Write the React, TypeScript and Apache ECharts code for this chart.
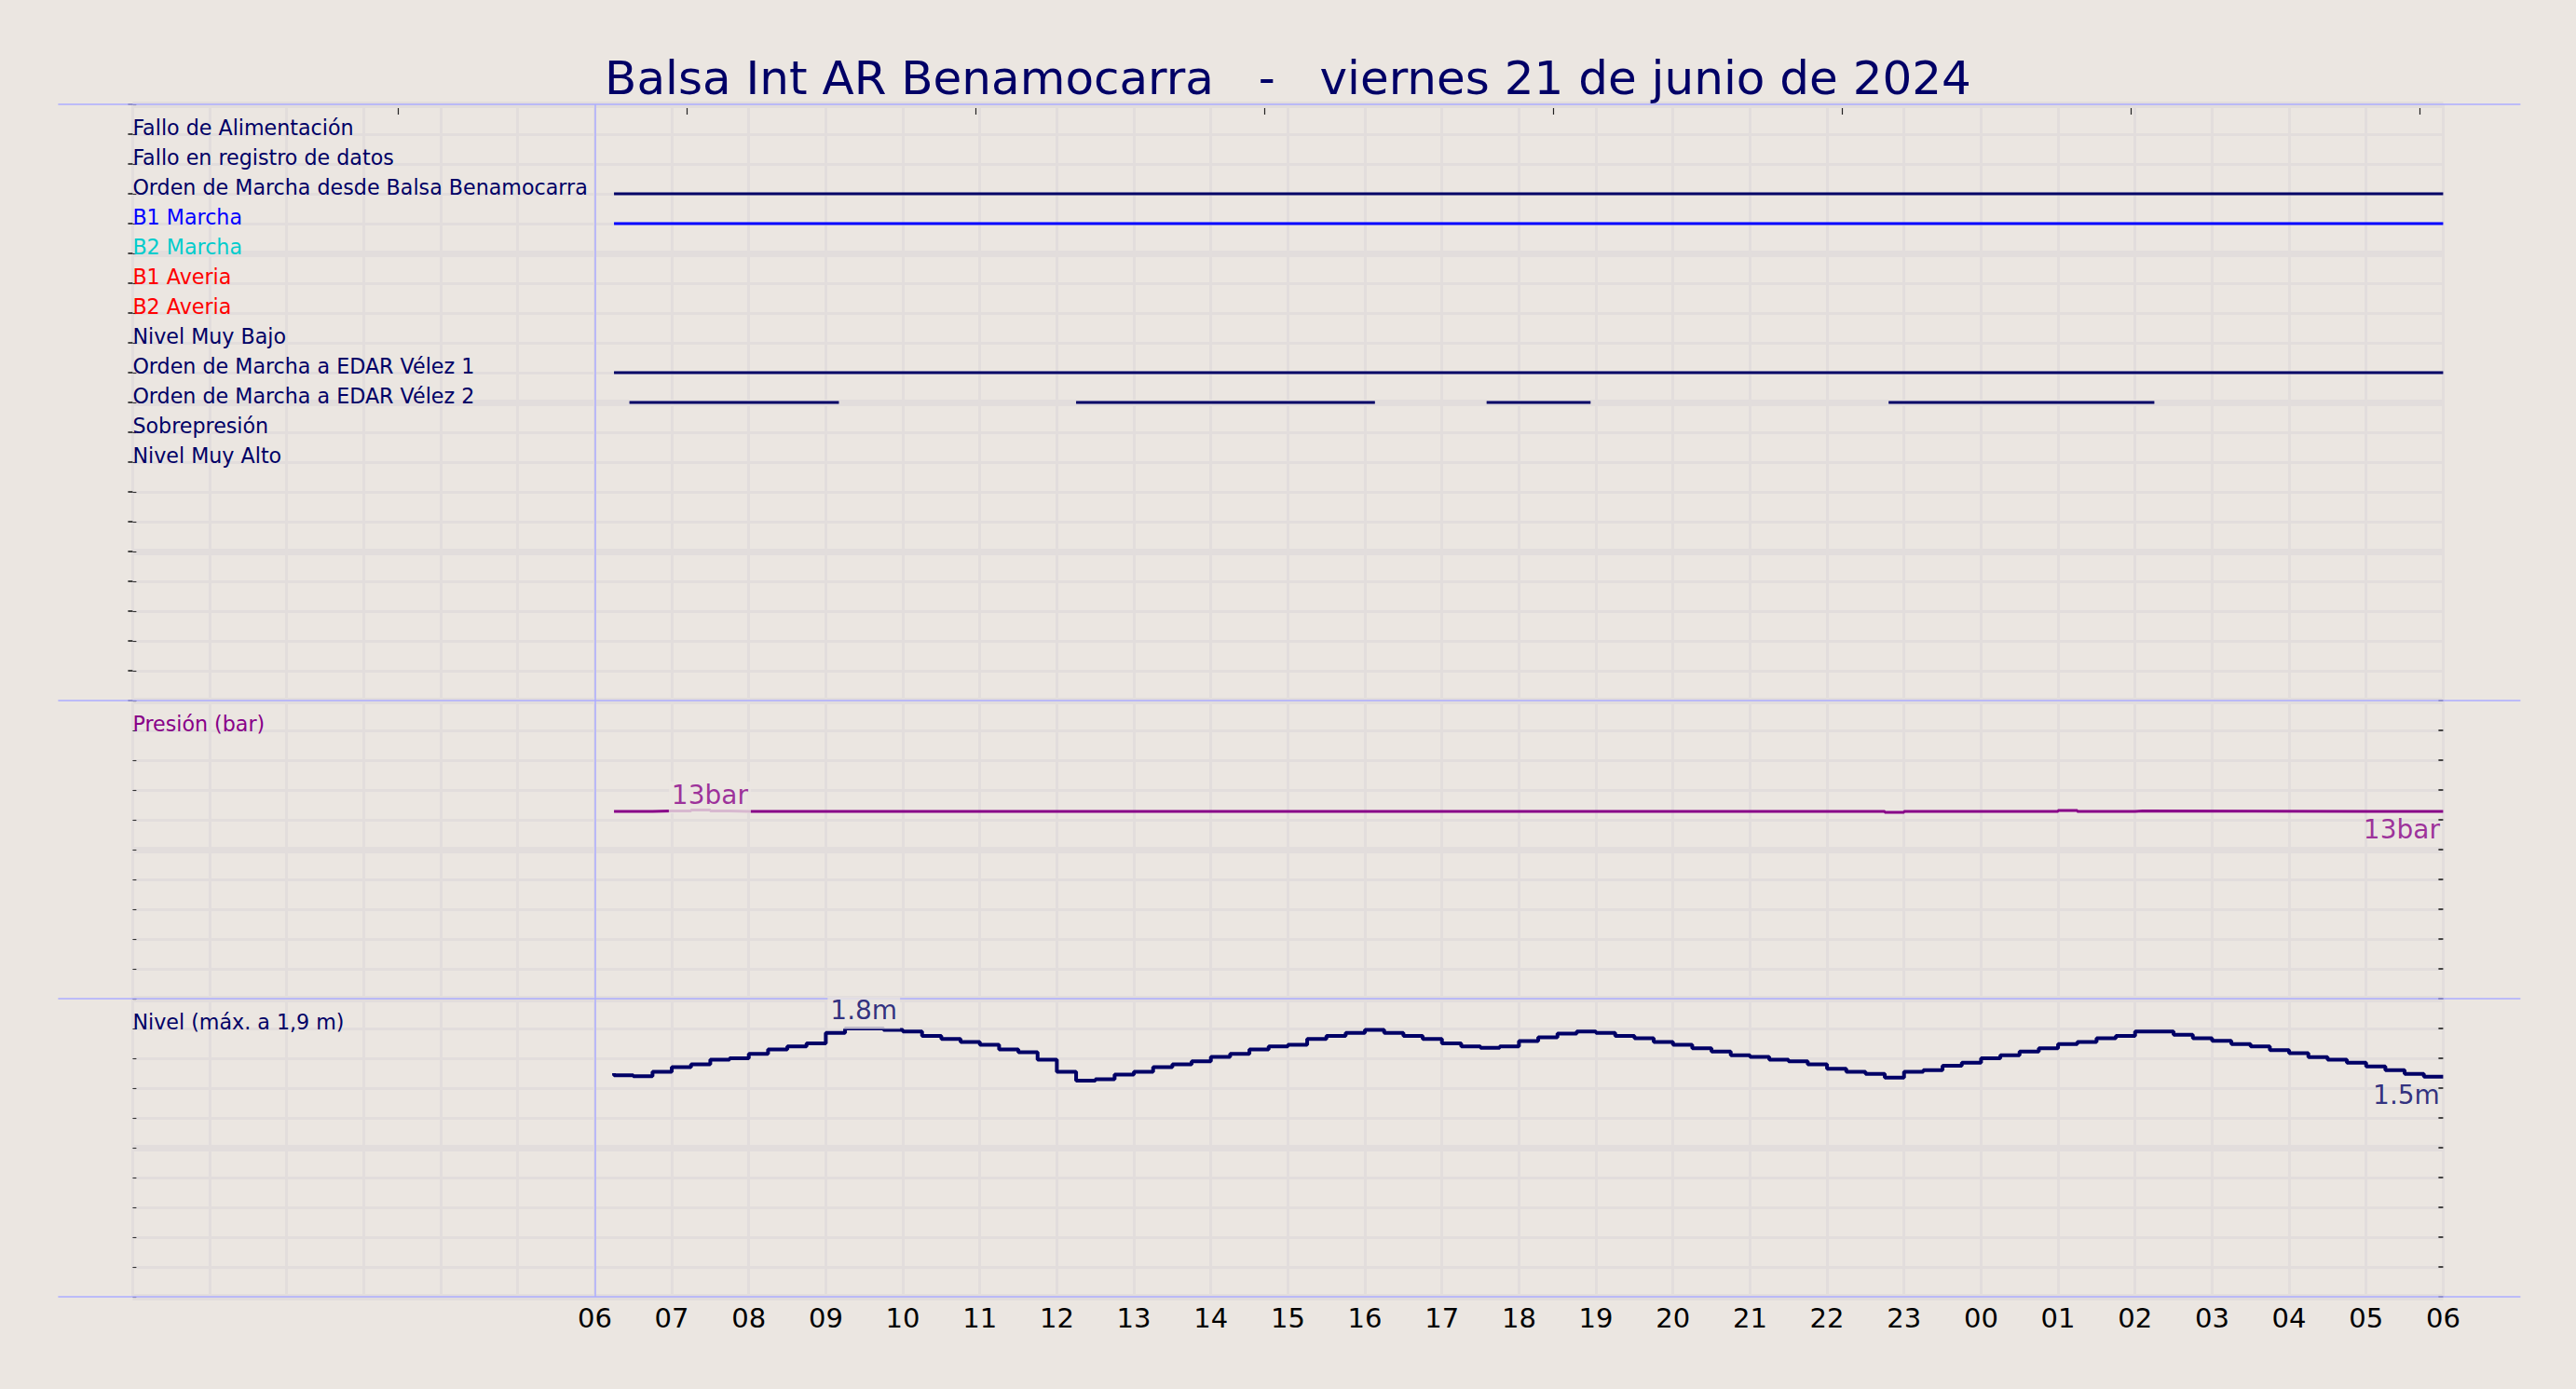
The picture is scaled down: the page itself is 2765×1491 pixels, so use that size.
import React, { useEffect, useRef } from 'react';
import * as echarts from 'echarts';

// ---------- data ----------
const TITLE = 'Balsa Int AR Benamocarra   -   viernes 21 de junio de 2024';

const X_MIN = 0; // hours since 00:00 of 21 June
const X_MAX = 30; // 06:00 of 22 June
const FIRST_LABELED_HOUR = 6;
const START_MARK_HOUR = 6;
const TOP_TICKS = [3.44, 7.19, 10.94, 14.69, 18.44, 22.19, 25.94, 29.69];

const SIGNAL_NAMES = [
  'Fallo de Alimentación',
  'Fallo en registro de datos',
  'Orden de Marcha desde Balsa Benamocarra',
  'B1 Marcha',
  'B2 Marcha',
  'B1 Averia',
  'B2 Averia',
  'Nivel Muy Bajo',
  'Orden de Marcha a EDAR Vélez 1',
  'Orden de Marcha a EDAR Vélez 2',
  'Sobrepresión',
  'Nivel Muy Alto',
];
const SIGNAL_COLORS = [
  '#000066', '#000066', '#000066', '#0000ff', '#00cccc', '#ff0000',
  '#ff0000', '#000066', '#000066', '#000066', '#000066', '#000066',
];
// [start, end] hours of each "on" period
const SIGNAL_ON: number[][][] = [
  [],
  [],
  [[6.25, 30]],
  [[6.25, 30]],
  [],
  [],
  [],
  [],
  [[6.25, 30]],
  [[6.45, 9.17], [12.25, 16.13], [17.58, 18.93], [22.8, 26.25]],
  [],
  [],
];
const DIGITAL_ROWS = 20;

const PRESSURE_LABEL = 'Presión (bar)';
const PRESSURE_UNIT = 'bar';
const PRESSURE_MIN = 0;
const PRESSURE_MAX = 20;
const PRESSURE_TIMES = [6.25, 6.75, 7.0, 7.25, 7.5, 7.75, 8.0, 22.75, 23.0, 25.0, 25.25, 26.0, 26.1, 30.0];
const PRESSURE_VALUES = [12.56, 12.56, 12.6, 12.6, 12.65, 12.6, 12.56, 12.56, 12.5, 12.56, 12.62, 12.56, 12.6, 12.56];

const LEVEL_LABEL = 'Nivel (máx. a 1,9 m)';
const LEVEL_UNIT = 'm';
const LEVEL_MIN = 0;
const LEVEL_MAX = 2;
const LEVEL_START = 6.25;
const LEVEL_STEP = 0.25;
const LEVEL_VALUES = [
  1.5, 1.486, 1.48, 1.51,
  1.54, 1.56, 1.59, 1.6,
  1.63, 1.66, 1.68, 1.7,
  1.77, 1.8, 1.8, 1.79,
  1.78, 1.75, 1.73, 1.71,
  1.69, 1.66, 1.64, 1.59,
  1.51, 1.45, 1.46, 1.49,
  1.51, 1.54, 1.56, 1.58,
  1.61, 1.63, 1.66, 1.68,
  1.69, 1.73, 1.75, 1.77,
  1.79, 1.77, 1.75, 1.73,
  1.7, 1.68, 1.67, 1.68,
  1.715, 1.74, 1.765, 1.78,
  1.77, 1.75, 1.735, 1.71,
  1.69, 1.667, 1.646, 1.62,
  1.61, 1.59, 1.58, 1.56,
  1.53, 1.51, 1.496, 1.47,
  1.51, 1.52, 1.55, 1.57,
  1.6, 1.62, 1.646, 1.667,
  1.696, 1.71, 1.735, 1.75,
  1.78, 1.78, 1.758, 1.735,
  1.717, 1.696, 1.68, 1.654,
  1.635, 1.608, 1.59, 1.57,
  1.546, 1.52, 1.496, 1.477,
];

// ---------- style / layout ----------
const W = 2765;
const H = 1491;
const BG = '#ebe6e1';
const GRID_COLOR = '#e2dddc';
const SEP_COLOR = '#adadff';
const NAVY = '#000066';
const PURPLE = '#880088';
const FONT = 'DejaVu Sans';
const PLOT_LEFT = 142.4;
const PLOT_RIGHT = 2622.4;
const PLOT_TOP = 112;
const ROW_H = 32;
const PANEL_ROWS = [20, 10, 10];

function App() {
  const ref = useRef<HTMLDivElement>(null);

  useEffect(() => {
    document.body.style.margin = '0';
    document.body.style.background = BG;
    if (!ref.current) return;
    const chart = echarts.init(ref.current, null, { renderer: 'svg', width: W, height: H });

    const panelTops: number[] = [];
    let acc = PLOT_TOP;
    PANEL_ROWS.forEach((r) => {
      panelTops.push(acc);
      acc += r * ROW_H;
    });
    const sepYs = [...panelTops, acc];

    const grids = PANEL_ROWS.map((r, i) => ({
      left: PLOT_LEFT,
      width: PLOT_RIGHT - PLOT_LEFT,
      top: panelTops[i],
      height: r * ROW_H,
      containLabel: false,
      outerBoundsMode: 'none',
    }));

    const pad2 = (n: number) => String(n).padStart(2, '0');

    const xAxes: any[] = [0, 1, 2].map((g) => ({
      type: 'value',
      gridIndex: g,
      min: X_MIN,
      max: X_MAX,
      interval: 1,
      axisLine: { show: false },
      axisTick: { show: false },
      splitLine: { show: true, lineStyle: { color: GRID_COLOR, width: 3 } },
      axisLabel:
        g === 2
          ? {
              show: true,
              margin: 8.5,
              fontSize: 29,
              lineHeight: 29,
              fontFamily: FONT,
              color: '#000',
              formatter: (v: number) =>
                v >= FIRST_LABELED_HOUR ? pad2(Math.round(v) % 24) : '',
            }
          : { show: false },
    }));
    xAxes.push({
      type: 'value',
      gridIndex: 0,
      position: 'top',
      offset: -4,
      min: X_MIN,
      max: X_MAX,
      axisLine: { show: false },
      axisLabel: { show: false },
      splitLine: { show: false },
      axisTick: {
        show: true,
        inside: true,
        length: 7,
        customValues: TOP_TICKS,
        lineStyle: { color: '#222', width: 1.2 },
      },
    });

    const panelScales = [
      { min: 0, max: DIGITAL_ROWS, interval: 1, major: 5, inverse: true },
      { min: PRESSURE_MIN, max: PRESSURE_MAX, interval: (PRESSURE_MAX - PRESSURE_MIN) / 10, major: (PRESSURE_MAX - PRESSURE_MIN) / 2, inverse: false },
      { min: LEVEL_MIN, max: LEVEL_MAX, interval: (LEVEL_MAX - LEVEL_MIN) / 10, major: (LEVEL_MAX - LEVEL_MIN) / 2, inverse: false },
    ];

    const labelFor = (g: number, v: number): { text: string; color: string } => {
      if (g === 0) {
        const i = Math.round(v) - 1;
        if (i >= 0 && i < SIGNAL_NAMES.length) return { text: SIGNAL_NAMES[i], color: SIGNAL_COLORS[i] };
        return { text: '', color: NAVY };
      }
      const s = panelScales[g];
      const top = s.max - s.interval;
      if (Math.abs(v - top) < 1e-6) {
        return g === 1 ? { text: PRESSURE_LABEL, color: PURPLE } : { text: LEVEL_LABEL, color: NAVY };
      }
      return { text: '', color: NAVY };
    };

    const yAxes: any[] = [];
    panelScales.forEach((s, g) => {
      yAxes.push({
        type: 'value',
        gridIndex: g,
        position: 'left',
        min: s.min,
        max: s.max,
        interval: s.interval,
        inverse: s.inverse,
        axisLine: { show: false },
        axisTick: { show: true, inside: true, length: 4, lineStyle: { color: '#333', width: 1.1 } },
        splitLine: { show: true, lineStyle: { color: GRID_COLOR, width: 3 } },
        axisLabel: {
          show: true,
          inside: true,
          margin: 0,
          align: 'left',
          verticalAlign: 'bottom',
          lineHeight: 15,
          fontSize: 22.2,
          fontFamily: FONT,
          formatter: (v: number) => labelFor(g, Number(v)).text,
          color: (v: any) => labelFor(g, Number(v)).color,
        },
      });
      yAxes.push({
        type: 'value',
        gridIndex: g,
        position: 'right',
        min: s.min,
        max: s.max,
        interval: s.interval,
        inverse: s.inverse,
        axisLine: { show: false },
        axisTick: { show: true, inside: true, length: 5, lineStyle: { color: '#111', width: 1.5 } },
        splitLine: { show: false },
        axisLabel: { show: false },
      });
      yAxes.push({
        type: 'value',
        gridIndex: g,
        position: 'left',
        min: s.min,
        max: s.max,
        interval: s.major,
        inverse: s.inverse,
        axisLine: { show: false },
        axisTick: { show: false },
        axisLabel: { show: false },
        splitLine: { show: true, lineStyle: { color: GRID_COLOR, width: 7 } },
      });
    });

    const startMark = {
      silent: true,
      symbol: ['none', 'none'],
      label: { show: false },
      lineStyle: { color: SEP_COLOR, width: 1.5, type: 'solid' },
      data: [{ xAxis: START_MARK_HOUR }],
    };

    const series: any[] = [];
    let markedDigital = false;
    SIGNAL_ON.forEach((segs, i) => {
      segs.forEach(([s, e]) => {
        series.push({
          type: 'line',
          xAxisIndex: 0,
          yAxisIndex: 0,
          data: [[s, i + 1], [e, i + 1]],
          symbol: 'none',
          silent: true,
          lineStyle: { color: SIGNAL_COLORS[i], width: 3 },
          markLine: markedDigital ? undefined : startMark,
        });
        markedDigital = true;
      });
    });

    const pressureData = PRESSURE_TIMES.map((t, i) => [t, PRESSURE_VALUES[i]]);
    const levelData = LEVEL_VALUES.map((v, i) => [LEVEL_START + i * LEVEL_STEP, v]);

    series.push({
      type: 'line',
      xAxisIndex: 1,
      yAxisIndex: 3,
      data: pressureData,
      step: 'start',
      symbol: 'none',
      silent: true,
      lineStyle: { color: PURPLE, width: 3 },
      markLine: startMark,
    });
    series.push({
      type: 'line',
      xAxisIndex: 2,
      yAxisIndex: 6,
      data: levelData,
      step: 'start',
      symbol: 'none',
      silent: true,
      lineStyle: { color: NAVY, width: 4 },
      markLine: startMark,
    });

    const maxPoint = (d: number[][]) => d.reduce((m, p) => (p[1] > m[1] ? p : m), d[0]);
    const lastPoint = (d: number[][]) => d[d.length - 1];

    const annotations = [
      { data: pressureData, x: 1, y: 3, color: PURPLE, dy: 4, fmt: (v: number) => Math.round(v) + PRESSURE_UNIT },
      { data: levelData, x: 2, y: 6, color: NAVY, dy: 1, fmt: (v: number) => v.toFixed(1) + LEVEL_UNIT },
    ];
    annotations.forEach((a) => {
      const mp = maxPoint(a.data);
      const lp = lastPoint(a.data);
      series.push({
        type: 'scatter',
        xAxisIndex: a.x,
        yAxisIndex: a.y,
        data: [mp],
        symbolSize: 1,
        silent: true,
        z: 5,
        itemStyle: { color: 'rgba(0,0,0,0)' },
        label: {
          show: true,
          position: [0, 0],
          align: 'center',
          verticalAlign: 'bottom',
          offset: [0, a.dy],
          formatter: () => a.fmt(mp[1]),
          fontSize: 28,
          lineHeight: 28,
          fontFamily: FONT,
          color: a.color,
          backgroundColor: BG,
          padding: [0, 3, 6, 3],
        },
      });
      series.push({
        type: 'scatter',
        xAxisIndex: a.x,
        yAxisIndex: a.y,
        data: [lp],
        symbolSize: 1,
        silent: true,
        z: 5,
        itemStyle: { color: 'rgba(0,0,0,0)' },
        label: {
          show: true,
          position: [0, 0],
          align: 'right',
          verticalAlign: 'top',
          offset: [-3, 6],
          formatter: () => a.fmt(lp[1]),
          fontSize: 28,
          lineHeight: 28,
          fontFamily: FONT,
          color: a.color,
        },
      });
    });

    const option: any = {
      animation: false,
      backgroundColor: BG,
      textStyle: { fontFamily: FONT },
      title: {
        text: TITLE,
        left: 'center',
        top: 54,
        textStyle: {
          fontSize: 50,
          lineHeight: 50,
          fontWeight: 'normal',
          fontFamily: FONT,
          color: NAVY,
        },
      },
      grid: grids,
      xAxis: xAxes,
      yAxis: yAxes,
      series,
      graphic: sepYs.map((y) => ({
        type: 'line',
        z: 1,
        silent: true,
        shape: { x1: PLOT_LEFT - 80, y1: y, x2: PLOT_RIGHT + 83, y2: y },
        style: { stroke: SEP_COLOR, lineWidth: 1.5 },
      })),
    };

    chart.setOption(option);
    return () => chart.dispose();
  }, []);

  return <div ref={ref} style={{ width: W, height: H, background: BG }} />;
}

export default App;
